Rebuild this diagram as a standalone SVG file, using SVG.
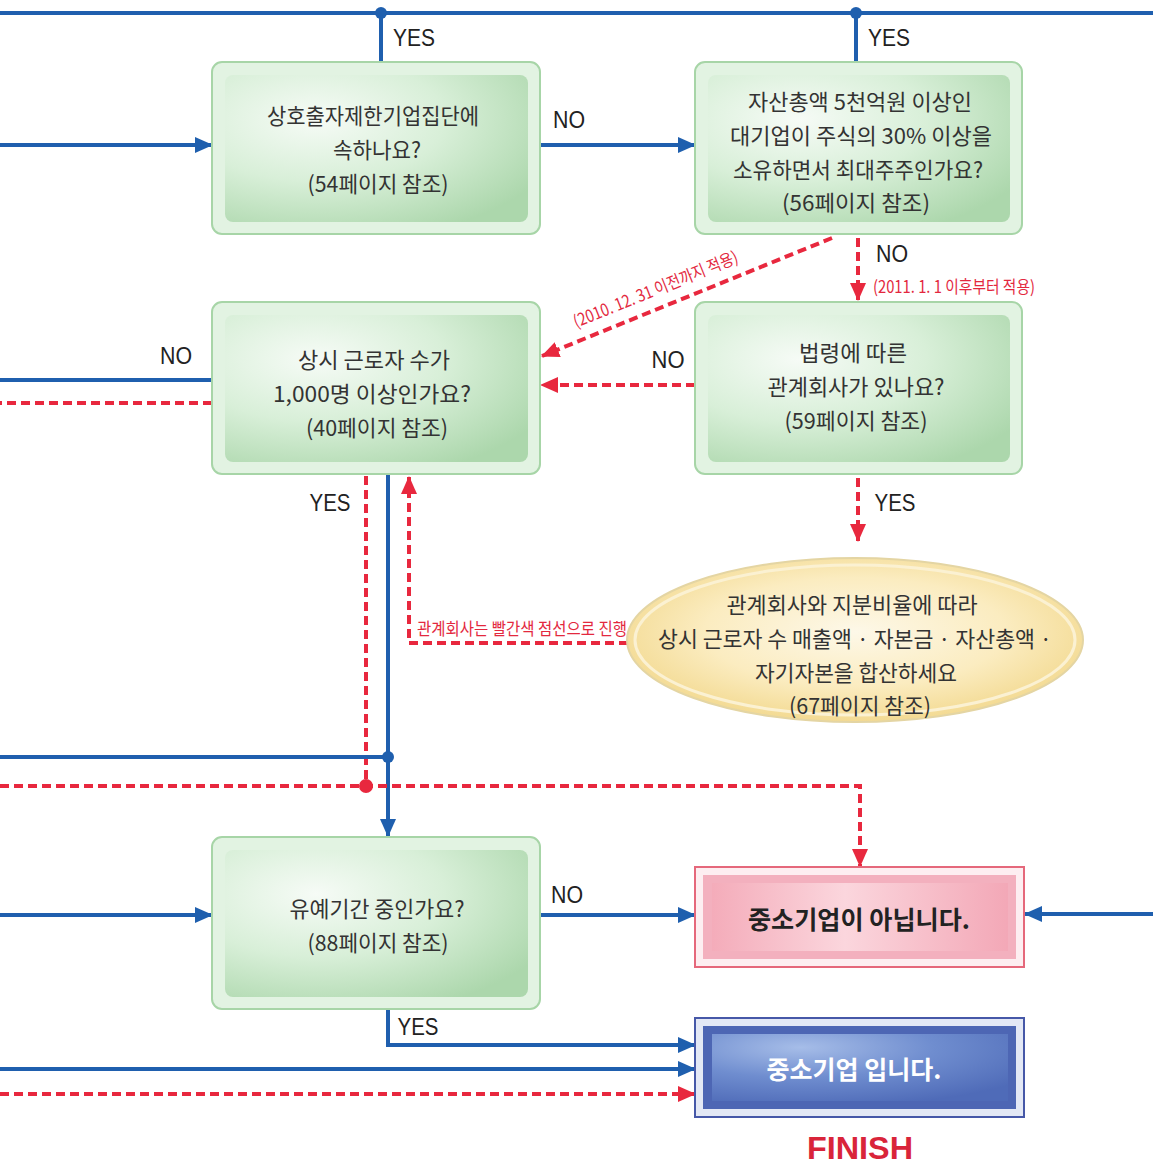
<svg xmlns="http://www.w3.org/2000/svg" width="1153" height="1167" viewBox="0 0 1153 1167">
<defs>
<style>
.t{font-family:"Noto Sans CJK KR","Noto Sans",sans-serif;font-size:22px;fill:#333;text-anchor:middle;dominant-baseline:central}
.lbl{font-family:"Liberation Sans","Noto Sans",sans-serif;font-size:23px;fill:#222;text-anchor:middle;dominant-baseline:central}
.rl{font-family:"Noto Sans CJK KR","Noto Sans",sans-serif;font-size:17px;fill:#e3283e;text-anchor:middle;dominant-baseline:central}
.b{fill:none;stroke:#1f5fae;stroke-width:4}
.r{fill:none;stroke:#e8283e;stroke-width:4;stroke-dasharray:9 5}
.ba{marker-end:url(#ab)}
.ra{marker-end:url(#ar)}
.gout{fill:#e2f3e2;stroke:#a7d5a7;stroke-width:2}
.gin{fill:url(#gg)}
</style>
<radialGradient id="gg" cx="0.3" cy="0.3" r="0.85">
<stop offset="0" stop-color="#f6fbf6"/>
<stop offset="0.5" stop-color="#d8efd8"/>
<stop offset="1" stop-color="#acd7ac"/>
</radialGradient>
<linearGradient id="pg" x1="0" y1="0" x2="1" y2="0">
<stop offset="0" stop-color="#f4acba"/>
<stop offset="0.45" stop-color="#fbd6dd"/>
<stop offset="1" stop-color="#f3a8b7"/>
</linearGradient>
<radialGradient id="bg" cx="0.3" cy="0.2" r="0.9">
<stop offset="0" stop-color="#a6bde8"/>
<stop offset="0.5" stop-color="#6f8dcf"/>
<stop offset="1" stop-color="#4f6bb8"/>
</radialGradient>
<radialGradient id="eg" cx="0.5" cy="0.45" r="0.55">
<stop offset="0" stop-color="#fdf8e8"/>
<stop offset="0.6" stop-color="#fbecc0"/>
<stop offset="1" stop-color="#f3da92"/>
</radialGradient>
<marker id="ab" markerUnits="userSpaceOnUse" markerWidth="18" markerHeight="16" refX="17" refY="8" orient="auto">
<path d="M0,0 L18,8 L0,16 Z" fill="#1f5fae"/>
</marker>
<marker id="ar" markerUnits="userSpaceOnUse" markerWidth="18" markerHeight="16" refX="17" refY="8" orient="auto">
<path d="M0,0 L18,8 L0,16 Z" fill="#e8283e"/>
</marker>
</defs>
<rect width="1153" height="1167" fill="#ffffff"/>

<g id="connectors">
<path class="b" d="M0,13 H1153"/>
<circle cx="381" cy="13" r="6" fill="#1f5fae"/>
<circle cx="856" cy="13" r="6" fill="#1f5fae"/>
<path class="b" d="M381,13 V62"/>
<path class="b" d="M856,13 V62"/>
<path class="b ba" d="M0,145 H212"/>
<path class="b ba" d="M540,145 H695"/>
<path class="b" d="M212,380 H0"/>
<path class="r" d="M212,403 H0"/>
<path class="r ra" d="M832,238 L542,356"/>
<path class="r ra" d="M858,238 V300"/>
<path class="r ra" d="M695,385 H541"/>
<path class="r ra" d="M858,478 V541"/>
<path class="r ra" d="M628,643 H409 V477"/>
<path class="r" d="M366,476 V786"/>
<path class="b ba" d="M388,474 V836"/>
<path class="b" d="M0,757 H388"/>
<circle cx="388" cy="757" r="6" fill="#1f5fae"/>
<path class="r ra" d="M0,786 H860 V866"/>
<circle cx="366" cy="786" r="7" fill="#e8283e"/>
<path class="b ba" d="M0,915 H212"/>
<path class="b ba" d="M540,915 H695"/>
<path class="b ba" d="M1153,914 H1025"/>
<path class="b ba" d="M388,1009 V1045 H695"/>
<path class="b ba" d="M0,1069 H695"/>
<path class="r ra" d="M0,1094 H695"/>
<text class="lbl" x="414" y="38" textLength="42" lengthAdjust="spacingAndGlyphs">YES</text>
<text class="lbl" x="889" y="38" textLength="42" lengthAdjust="spacingAndGlyphs">YES</text>
<text class="lbl" x="569" y="120" textLength="32" lengthAdjust="spacingAndGlyphs">NO</text>
<text class="lbl" x="892" y="254" textLength="32" lengthAdjust="spacingAndGlyphs">NO</text>
<text class="lbl" x="176" y="356" textLength="32" lengthAdjust="spacingAndGlyphs">NO</text>
<text class="lbl" x="668" y="360" textLength="33" lengthAdjust="spacingAndGlyphs">NO</text>
<text class="lbl" x="330" y="503" textLength="41" lengthAdjust="spacingAndGlyphs">YES</text>
<text class="lbl" x="895" y="503" textLength="41" lengthAdjust="spacingAndGlyphs">YES</text>
<text class="lbl" x="567" y="895" textLength="32" lengthAdjust="spacingAndGlyphs">NO</text>
<text class="lbl" x="418" y="1027" textLength="41" lengthAdjust="spacingAndGlyphs">YES</text>
<text class="rl" transform="translate(655,288) rotate(-22)" textLength="176" lengthAdjust="spacingAndGlyphs">(2010. 12. 31 이전까지 적용)</text>
<text class="rl" x="954" y="285" textLength="162" lengthAdjust="spacingAndGlyphs">(2011. 1. 1 이후부터 적용)</text>
<text class="rl" x="522" y="627" textLength="210" lengthAdjust="spacingAndGlyphs">관계회사는 빨간색 점선으로 진행</text>
</g>

<g id="node-q1">
<rect class="gout" x="212" y="62" width="328" height="172" rx="10"/>
<rect class="gin" x="225" y="75" width="303" height="147" rx="8"/>
<text class="t" x="373" y="114" textLength="212" lengthAdjust="spacingAndGlyphs">상호출자제한기업집단에</text>
<text class="t" x="377" y="148" textLength="88" lengthAdjust="spacingAndGlyphs">속하나요?</text>
<text class="t" x="378" y="182" textLength="141" lengthAdjust="spacingAndGlyphs">(54페이지 참조)</text>
</g>

<g id="node-q2">
<rect class="gout" x="695" y="62" width="327" height="172" rx="10"/>
<rect class="gin" x="708" y="75" width="302" height="147" rx="8"/>
<text class="t" x="860" y="100" textLength="224" lengthAdjust="spacingAndGlyphs">자산총액 5천억원 이상인</text>
<text class="t" x="861" y="134" textLength="262" lengthAdjust="spacingAndGlyphs">대기업이 주식의 30% 이상을</text>
<text class="t" x="858" y="168" textLength="250" lengthAdjust="spacingAndGlyphs">소유하면서 최대주주인가요?</text>
<text class="t" x="856" y="201" textLength="148" lengthAdjust="spacingAndGlyphs">(56페이지 참조)</text>
</g>

<g id="node-q3">
<rect class="gout" x="212" y="302" width="328" height="172" rx="10"/>
<rect class="gin" x="225" y="315" width="303" height="147" rx="8"/>
<text class="t" x="374" y="358" textLength="152" lengthAdjust="spacingAndGlyphs">상시 근로자 수가</text>
<text class="t" x="372" y="392" textLength="198" lengthAdjust="spacingAndGlyphs">1,000명 이상인가요?</text>
<text class="t" x="377" y="426" textLength="142" lengthAdjust="spacingAndGlyphs">(40페이지 참조)</text>
</g>

<g id="node-q4">
<rect class="gout" x="695" y="302" width="327" height="172" rx="10"/>
<rect class="gin" x="708" y="315" width="302" height="147" rx="8"/>
<text class="t" x="853" y="351" textLength="108" lengthAdjust="spacingAndGlyphs">법령에 따른</text>
<text class="t" x="856" y="385" textLength="177" lengthAdjust="spacingAndGlyphs">관계회사가 있나요?</text>
<text class="t" x="856" y="419" textLength="143" lengthAdjust="spacingAndGlyphs">(59페이지 참조)</text>
</g>

<g id="node-sum">
<ellipse cx="855" cy="640" rx="228" ry="82" fill="url(#eg)" stroke="#e4d5a3" stroke-width="2"/>
<ellipse cx="855" cy="640" rx="220" ry="75" fill="none" stroke="#fbf1d2" stroke-width="3"/>
<text class="t" x="852" y="603" textLength="251" lengthAdjust="spacingAndGlyphs">관계회사와 지분비율에 따라</text>
<text class="t" x="855" y="637" textLength="394" lengthAdjust="spacingAndGlyphs">상시 근로자 수 매출액 · 자본금 · 자산총액 ·</text>
<text class="t" x="856" y="671" textLength="202" lengthAdjust="spacingAndGlyphs">자기자본을 합산하세요</text>
<text class="t" x="860" y="704" textLength="142" lengthAdjust="spacingAndGlyphs">(67페이지 참조)</text>
</g>

<g id="node-q5">
<rect class="gout" x="212" y="837" width="328" height="172" rx="10"/>
<rect class="gin" x="225" y="850" width="303" height="147" rx="8"/>
<text class="t" x="377" y="907" textLength="175" lengthAdjust="spacingAndGlyphs">유예기간 중인가요?</text>
<text class="t" x="378" y="941" textLength="141" lengthAdjust="spacingAndGlyphs">(88페이지 참조)</text>
</g>

<g id="node-not-sme">
<rect x="695" y="867" width="329" height="100" fill="#fdeef1" stroke="#e5687b" stroke-width="2"/>
<rect x="703" y="875" width="313" height="84" fill="#f3b0be"/>
<rect x="712" y="883" width="296" height="68" fill="url(#pg)"/>
<text class="t" x="859" y="918" style="font-size:25px;font-weight:bold;fill:#222" textLength="222" lengthAdjust="spacingAndGlyphs">중소기업이 아닙니다.</text>
</g>

<g id="node-sme">
<rect x="695" y="1018" width="329" height="99" fill="#e3e8f5" stroke="#4658a8" stroke-width="2"/>
<rect x="703" y="1026" width="313" height="83" fill="#4d66b4"/>
<rect x="712" y="1034" width="296" height="67" fill="url(#bg)"/>
<text class="t" x="854" y="1068" style="font-size:25px;font-weight:bold;fill:#ffffff" textLength="175" lengthAdjust="spacingAndGlyphs">중소기업 입니다.</text>
</g>

<g id="finish">
<text x="860" y="1148" style="font-family:'Liberation Sans',sans-serif;font-size:32px;font-weight:bold;fill:#d9243a;text-anchor:middle;dominant-baseline:central" textLength="106" lengthAdjust="spacingAndGlyphs">FINISH</text>
</g>
</svg>
